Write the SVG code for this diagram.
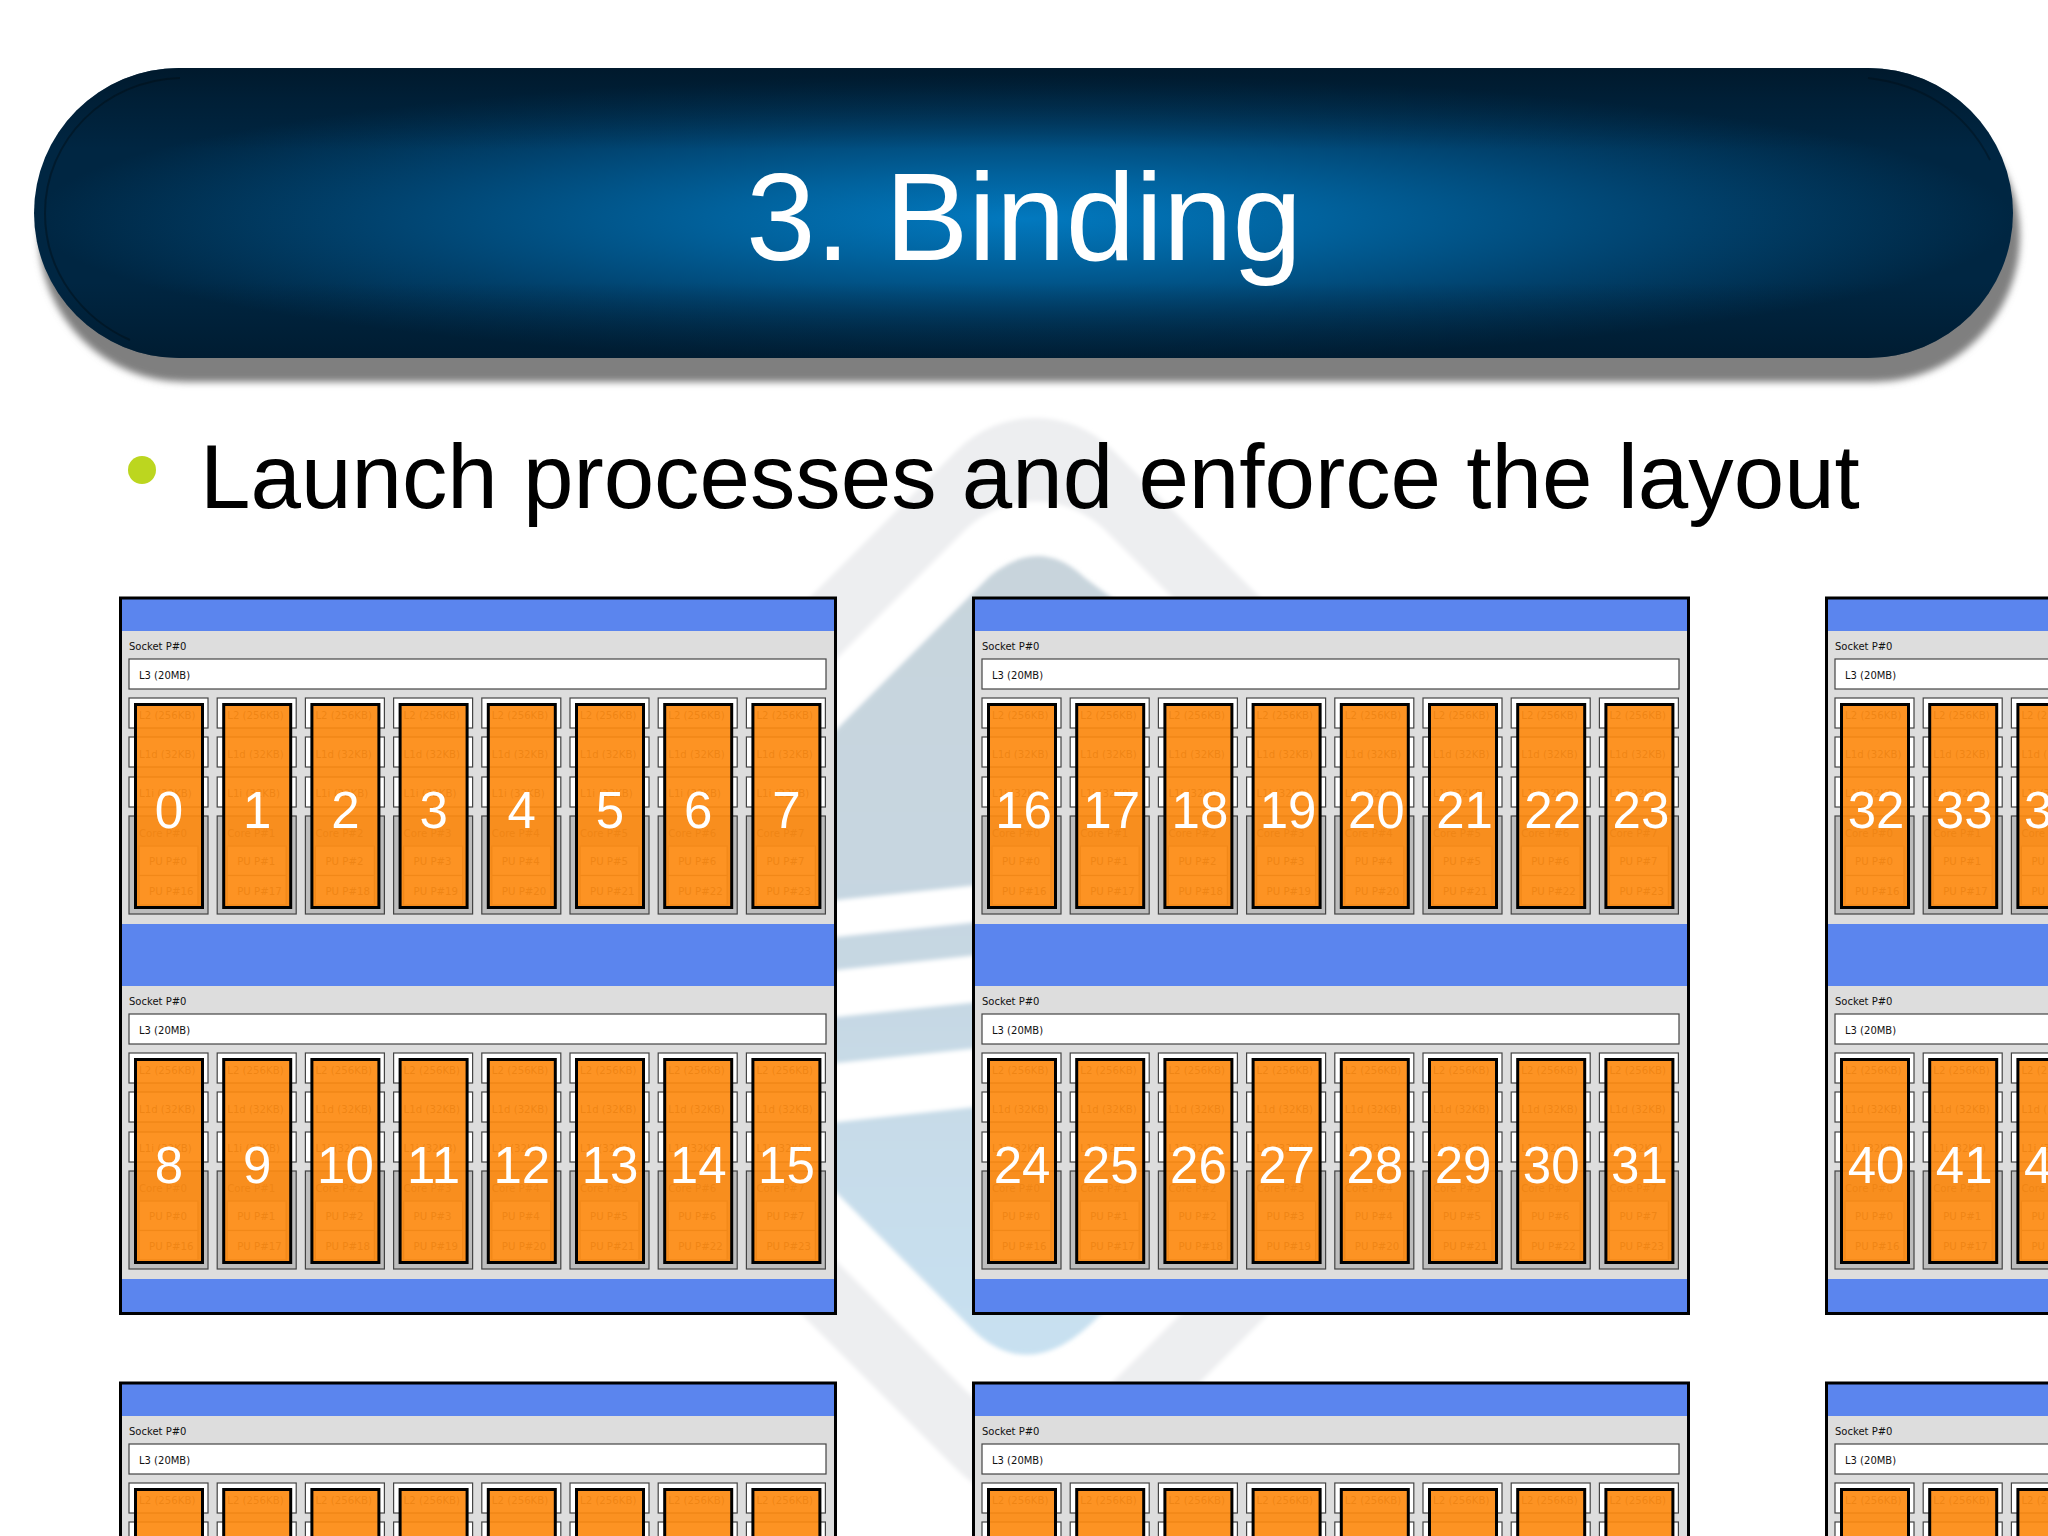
<svg xmlns="http://www.w3.org/2000/svg" width="2048" height="1536" viewBox="0 0 2048 1536">
<style>
.small{font-family:"DejaVu Sans","Liberation Sans",sans-serif;font-size:10px;fill:#111}
.under{font-family:"DejaVu Sans","Liberation Sans",sans-serif;font-size:10.2px;fill:#4a4a4a}
.num{font-family:"Liberation Sans",Arial,sans-serif;font-size:51px;fill:#fff;text-anchor:middle}
.box{fill:#fff;stroke:#444;stroke-width:1.2}
.corebox{fill:#bdbdbd;stroke:#444;stroke-width:1.2}
.pu{fill:#f4f4f4;stroke:#777;stroke-width:1.2}
.orange{fill:#fd8a10;fill-opacity:.92;stroke:#000;stroke-width:3}
.blue{fill:#5b85ee}
.border{fill:none;stroke:#000;stroke-width:3}
.sock{fill:#dddddd}
</style>
<defs>
<radialGradient id="barGlow" cx="0.5" cy="0.52" r="0.5">
<stop offset="0" stop-color="#0279bf"/><stop offset="0.3" stop-color="#01629d"/><stop offset="0.65" stop-color="#01436f"/><stop offset="1" stop-color="#002642"/>
</radialGradient>
<linearGradient id="barShade" x1="0" y1="0" x2="0" y2="1">
<stop offset="0" stop-color="#001627" stop-opacity=".8"/><stop offset="0.1" stop-color="#001627" stop-opacity=".45"/><stop offset="0.28" stop-color="#001627" stop-opacity="0"/><stop offset="0.74" stop-color="#001627" stop-opacity="0"/><stop offset="0.92" stop-color="#001627" stop-opacity=".42"/><stop offset="1" stop-color="#001627" stop-opacity=".6"/>
</linearGradient>
<linearGradient id="wmBlue" x1="0" y1="0" x2="0" y2="1">
<stop offset="0" stop-color="#c8d4dc"/><stop offset="0.5" stop-color="#c6d7e2"/><stop offset="1" stop-color="#c8e1f1"/>
</linearGradient>
<filter id="soft" x="-5%" y="-20%" width="110%" height="140%"><feGaussianBlur stdDeviation="3.5"/></filter>
<filter id="soft2" x="-5%" y="-5%" width="110%" height="110%"><feGaussianBlur stdDeviation="2"/></filter>

<g id="coreBase">
<rect class="box" x="0" y="0" width="79" height="30"/>
<rect class="box" x="0" y="39" width="79" height="30"/>
<rect class="box" x="0" y="79" width="79" height="30"/>
<rect class="corebox" x="0" y="118" width="79" height="98"/>
<rect class="pu" x="10" y="148" width="59" height="29.5"/>
<rect class="pu" x="10" y="177.5" width="59" height="29.5"/>
<text class="under" x="10" y="21">L2 (256KB)</text>
<text class="under" x="10" y="60">L1d (32KB)</text>
<text class="under" x="10" y="99">L1i (32KB)</text>
</g>
<rect id="coreOrange" class="orange" x="6.5" y="6.5" width="67" height="203"/>
<g id="core0"><use href="#coreBase"/><text class="under" x="10" y="139">Core P#0</text><text class="under" x="20" y="167">PU P#0</text><text class="under" x="20" y="197">PU P#16</text><use href="#coreOrange"/></g>
<g id="core1"><use href="#coreBase"/><text class="under" x="10" y="139">Core P#1</text><text class="under" x="20" y="167">PU P#1</text><text class="under" x="20" y="197">PU P#17</text><use href="#coreOrange"/></g>
<g id="core2"><use href="#coreBase"/><text class="under" x="10" y="139">Core P#2</text><text class="under" x="20" y="167">PU P#2</text><text class="under" x="20" y="197">PU P#18</text><use href="#coreOrange"/></g>
<g id="core3"><use href="#coreBase"/><text class="under" x="10" y="139">Core P#3</text><text class="under" x="20" y="167">PU P#3</text><text class="under" x="20" y="197">PU P#19</text><use href="#coreOrange"/></g>
<g id="core4"><use href="#coreBase"/><text class="under" x="10" y="139">Core P#4</text><text class="under" x="20" y="167">PU P#4</text><text class="under" x="20" y="197">PU P#20</text><use href="#coreOrange"/></g>
<g id="core5"><use href="#coreBase"/><text class="under" x="10" y="139">Core P#5</text><text class="under" x="20" y="167">PU P#5</text><text class="under" x="20" y="197">PU P#21</text><use href="#coreOrange"/></g>
<g id="core6"><use href="#coreBase"/><text class="under" x="10" y="139">Core P#6</text><text class="under" x="20" y="167">PU P#6</text><text class="under" x="20" y="197">PU P#22</text><use href="#coreOrange"/></g>
<g id="core7"><use href="#coreBase"/><text class="under" x="10" y="139">Core P#7</text><text class="under" x="20" y="167">PU P#7</text><text class="under" x="20" y="197">PU P#23</text><use href="#coreOrange"/></g>

<g id="sockHead">
<rect class="sock" x="0" y="0" width="717" height="293"/>
<text class="small" x="10" y="19">Socket P#0</text>
<rect class="box" x="10" y="28" width="697" height="30"/>
<text class="small" x="20" y="48">L3 (20MB)</text>
</g>
<g id="socket8">
<use href="#sockHead"/>
<use href="#core0" x="10" y="67"/><use href="#core1" x="98.2" y="67"/><use href="#core2" x="186.4" y="67"/><use href="#core3" x="274.6" y="67"/>
<use href="#core4" x="362.8" y="67"/><use href="#core5" x="451" y="67"/><use href="#core6" x="539.2" y="67"/><use href="#core7" x="627.4" y="67"/>
</g>
<g id="socket3">
<use href="#sockHead"/>
<use href="#core0" x="10" y="67"/><use href="#core1" x="98.2" y="67"/><use href="#core2" x="186.4" y="67"/>
</g>
<g id="coreCut">
<rect class="box" x="0" y="0" width="79" height="30"/>
<rect class="box" x="0" y="39" width="79" height="30"/>
<text class="under" x="10" y="21">L2 (256KB)</text>
<use href="#coreOrange"/>
</g>
<g id="sockCutHead">
<rect class="sock" x="0" y="0" width="717" height="130"/>
<text class="small" x="10" y="19">Socket P#0</text>
<rect class="box" x="10" y="28" width="697" height="30"/>
<text class="small" x="20" y="48">L3 (20MB)</text>
</g>
</defs>

<rect width="2048" height="1536" fill="#fff"/>

<g id="watermark">
<rect x="619.5" y="544.5" width="831" height="831" rx="110" transform="rotate(45 1035 960)" fill="#edeef0" filter="url(#soft2)"/>
<rect x="681.5" y="606.5" width="707" height="707" rx="100" transform="rotate(45 1035 960)" fill="#fff" filter="url(#soft2)"/>
<path d="M650 916 L990 576 Q1040 535 1085 578 L1600 960 L1100 1315 Q1033 1385 975 1332 L650 1005 Z" fill="url(#wmBlue)" filter="url(#soft2)"/>
<g fill="#fff" filter="url(#soft2)">
<path d="M600 925 L1500 830 L1500 867 L600 962 Z"/>
<path d="M600 995 L1500 900 L1500 947 L600 1042 Z"/>
<path d="M600 1088 L1500 993 L1500 1050 L600 1148 Z"/>
</g>
</g>

<g id="title">
<rect x="39" y="90" width="1981" height="292" rx="146" fill="#7f7f7f" filter="url(#soft)"/>
<rect x="34" y="68" width="1979" height="290" rx="145" fill="url(#barGlow)"/>
<rect x="34" y="68" width="1979" height="290" rx="145" fill="url(#barShade)"/>
<path d="M180 78 C105 80 45 140 45 213 C45 275 85 320 130 340" fill="none" stroke="#000d14" stroke-opacity=".45" stroke-width="2"/>
<path d="M1868 78 C1920 84 1965 110 1990 160" fill="none" stroke="#000d14" stroke-opacity=".4" stroke-width="2"/>
<text x="1024" y="260" font-family="'Liberation Sans',Arial,sans-serif" font-size="125" fill="#fff" text-anchor="middle">3. Binding</text>
</g>

<g id="body">
<circle cx="142" cy="470" r="14" fill="#bcd61f"/>
<text x="200" y="508" font-family="'Liberation Sans',Arial,sans-serif" font-size="90.75" fill="#000">Launch processes and enforce the layout</text>
</g>

<g id="node-r1c1" transform="translate(119,597)">
<rect class="blue" width="717" height="717"/>
<use href="#socket8" y="34"/><use href="#socket8" y="389"/>
<text class="num" x="50" y="231">0</text><text class="num" x="138.2" y="231">1</text><text class="num" x="226.4" y="231">2</text><text class="num" x="314.6" y="231">3</text><text class="num" x="402.8" y="231">4</text><text class="num" x="491" y="231">5</text><text class="num" x="579.2" y="231">6</text><text class="num" x="667.4" y="231">7</text>
<text class="num" x="50" y="586">8</text><text class="num" x="138.2" y="586">9</text><text class="num" x="226.4" y="586">10</text><text class="num" x="314.6" y="586">11</text><text class="num" x="402.8" y="586">12</text><text class="num" x="491" y="586">13</text><text class="num" x="579.2" y="586">14</text><text class="num" x="667.4" y="586">15</text>
<rect class="border" x="1.5" y="1" width="715" height="715.5"/>
</g>

<g id="node-r1c2" transform="translate(972,597)">
<rect class="blue" width="717" height="717"/>
<use href="#socket8" y="34"/><use href="#socket8" y="389"/>
<text class="num" x="51.5" y="231">16</text><text class="num" x="139.7" y="231">17</text><text class="num" x="227.9" y="231">18</text><text class="num" x="316.1" y="231">19</text><text class="num" x="404.3" y="231">20</text><text class="num" x="492.5" y="231">21</text><text class="num" x="580.7" y="231">22</text><text class="num" x="668.9" y="231">23</text>
<text class="num" x="50" y="586">24</text><text class="num" x="138.2" y="586">25</text><text class="num" x="226.4" y="586">26</text><text class="num" x="314.6" y="586">27</text><text class="num" x="402.8" y="586">28</text><text class="num" x="491" y="586">29</text><text class="num" x="579.2" y="586">30</text><text class="num" x="667.4" y="586">31</text>
<rect class="border" x="1.5" y="1" width="715" height="715.5"/>
</g>

<g id="node-r1c3" transform="translate(1825,597)">
<rect class="blue" width="717" height="717"/>
<use href="#socket3" y="34"/><use href="#socket3" y="389"/>
<text class="num" x="51" y="231">32</text><text class="num" x="139.2" y="231">33</text><text class="num" x="227.4" y="231">34</text>
<text class="num" x="51" y="586">40</text><text class="num" x="139.2" y="586">41</text><text class="num" x="227.4" y="586">42</text>
<rect class="border" x="1.5" y="1" width="715" height="715.5"/>
</g>

<g id="node-r2c1" transform="translate(119,1382)">
<rect class="blue" width="717" height="160"/>
<use href="#sockCutHead" y="34"/>
<use href="#coreCut" x="10" y="101"/><use href="#coreCut" x="98.2" y="101"/><use href="#coreCut" x="186.4" y="101"/><use href="#coreCut" x="274.6" y="101"/><use href="#coreCut" x="362.8" y="101"/><use href="#coreCut" x="451" y="101"/><use href="#coreCut" x="539.2" y="101"/><use href="#coreCut" x="627.4" y="101"/>
<rect class="border" x="1.5" y="1" width="715" height="715.5"/>
</g>
<g id="node-r2c2" transform="translate(972,1382)">
<rect class="blue" width="717" height="160"/>
<use href="#sockCutHead" y="34"/>
<use href="#coreCut" x="10" y="101"/><use href="#coreCut" x="98.2" y="101"/><use href="#coreCut" x="186.4" y="101"/><use href="#coreCut" x="274.6" y="101"/><use href="#coreCut" x="362.8" y="101"/><use href="#coreCut" x="451" y="101"/><use href="#coreCut" x="539.2" y="101"/><use href="#coreCut" x="627.4" y="101"/>
<rect class="border" x="1.5" y="1" width="715" height="715.5"/>
</g>
<g id="node-r2c3" transform="translate(1825,1382)">
<rect class="blue" width="717" height="160"/>
<use href="#sockCutHead" y="34"/>
<use href="#coreCut" x="10" y="101"/><use href="#coreCut" x="98.2" y="101"/><use href="#coreCut" x="186.4" y="101"/>
<rect class="border" x="1.5" y="1" width="715" height="715.5"/>
</g>
<g id="connectors"></g>
</svg>
